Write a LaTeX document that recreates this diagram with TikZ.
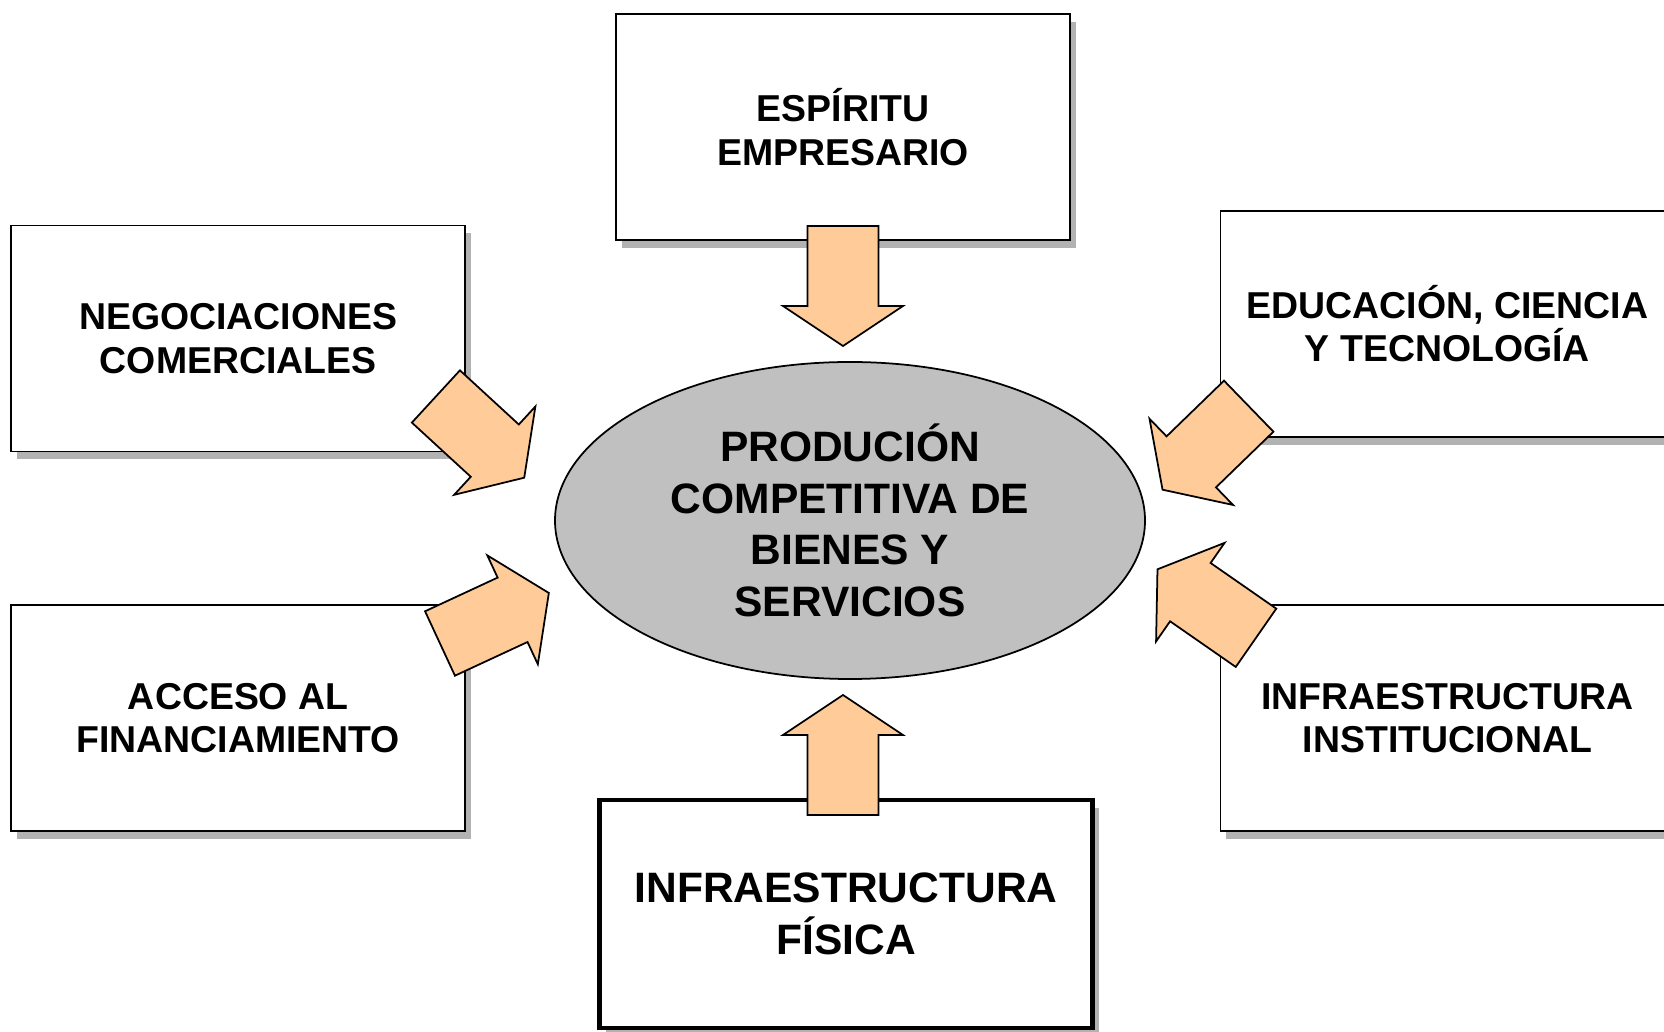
\documentclass[tikz,border=0pt]{standalone}
\usepackage{fontspec}
\setmainfont{Liberation Sans}
\usetikzlibrary{shapes.geometric,shadows,positioning}
\definecolor{arrowfill}{RGB}{255,204,153}
\definecolor{ovalgray}{RGB}{192,192,192}
\definecolor{shadowgray}{RGB}{178,178,178}

\tikzset{
  factorbox/.style={draw,fill=white,line width=0.5pt,minimum width=4.54cm,minimum height=2.26cm,
    align=center,inner sep=0pt,font=\fontsize{10.65pt}{12.4pt}\selectfont\bfseries,
    drop shadow={shadow xshift=0.06cm,shadow yshift=-0.08cm,fill=shadowgray,opacity=1}},
  bigtext/.style={font=\fontsize{12.1pt}{14.7pt}\selectfont\bfseries},
  fatarrow/.style={draw,fill=arrowfill,line width=0.5pt,line join=miter}
}
% block arrow: tail centre, direction
\newcommand{\blockarrow}[2]{%
  \draw[fatarrow,shift={(#1)},rotate=#2] (0,-0.355) -- (0.80,-0.355) -- (0.80,-0.60) -- (1.20,0)
    -- (0.80,0.60) -- (0.80,0.355) -- (0,0.355) -- cycle;}

\begin{document}
\begin{tikzpicture}
\path[use as bounding box,clip] (0,0) rectangle (16.64,10.31);

% factors
\node[factorbox] (espiritu) at (8.43,9.04) {ESPÍRITU\\EMPRESARIO};
\node[factorbox] (negociaciones) at (2.382,6.926) {NEGOCIACIONES\\COMERCIALES};
\node[factorbox] (acceso) at (2.382,3.13) {ACCESO AL\\FINANCIAMIENTO};
\node[factorbox] (educacion) at (14.474,7.072) {EDUCACIÓN, CIENCIA\\Y TECNOLOGÍA};
\node[factorbox] (institucional) at (14.474,3.13) {INFRAESTRUCTURA\\INSTITUCIONAL};
\node[factorbox,bigtext,line width=1.3pt,minimum width=4.93cm,minimum height=2.28cm] (fisica) at (8.46,1.17) {INFRAESTRUCTURA\\FÍSICA};

% centre
\node[draw,ellipse,fill=ovalgray,line width=0.5pt,inner sep=0pt,minimum width=5.9cm,minimum height=3.17cm,
  align=center,bigtext] (produccion) at (8.50,5.105) {PRODUCIÓN\\COMPETITIVA DE\\BIENES Y\\SERVICIOS};

% arrow tails
\coordinate (tailtop) at (8.43,8.05);
\coordinate (tailbot) at (8.43,2.16);
\coordinate (tailnw) at (4.359,6.345);
\coordinate (tailne) at (12.487,6.248);
\coordinate (tailsw) at (4.40,3.875);
\coordinate (tailse) at (12.56,3.932);

\blockarrow{tailtop}{-90}
\blockarrow{tailbot}{90}
\blockarrow{tailnw}{-42.6}
\blockarrow{tailne}{-135.9}
\blockarrow{tailsw}{24.9}
\blockarrow{tailse}{145.2}
\end{tikzpicture}
\end{document}
